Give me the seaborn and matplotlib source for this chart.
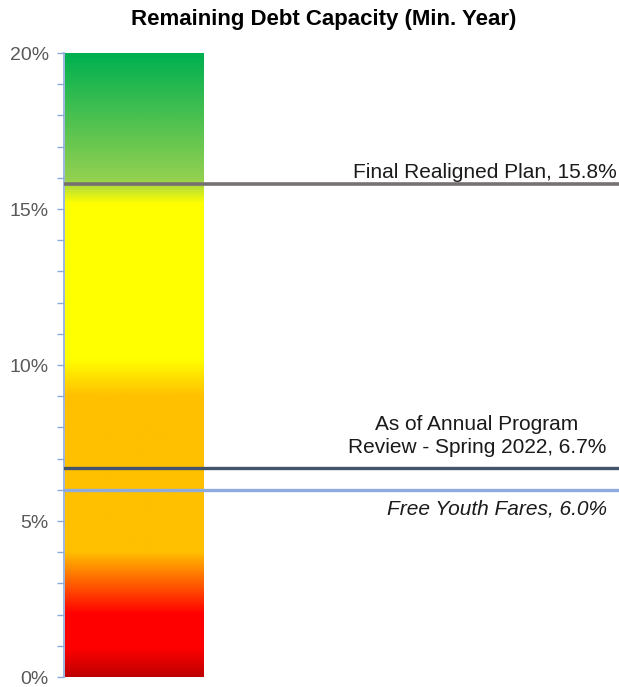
import numpy as np
import pandas as pd
import matplotlib
matplotlib.use("Agg")
import matplotlib.pyplot as plt
import seaborn as sns
from matplotlib.colors import LinearSegmentedColormap
from matplotlib.transforms import blended_transform_factory

# ---- data ----
title = "Remaining Debt Capacity (Min. Year)"
gauge_category = ["Capacity"]
gauge_value = [20.0]
y_ticks = [0, 5, 10, 15, 20]
y_tick_labels = ["0%", "5%", "10%", "15%", "20%"]
marker_names = ["Final Realigned Plan, 15.8%",
                "As of Annual Program\nReview - Spring 2022, 6.7%",
                "Free Youth Fares, 6.0%"]
marker_values = [15.8, 6.7, 6.0]
# gradient stops (value %, colour)
grad_pos = [0.0, 0.9, 2.0, 4.0, 9.0, 10.2, 15.2, 16.0, 20.0]
grad_col = ["#C00000", "#FF0000", "#FF0000", "#FFC000", "#FFC000",
            "#FFFF00", "#FFFF00", "#92D050", "#00B050"]

sns.set_theme(style="white")
plt.rcParams['font.family'] = ['Liberation Sans', 'DejaVu Sans']

fig = plt.figure(figsize=(6.19, 6.87), dpi=100)
ax = fig.add_axes([64/619, 1-677/687, 1-64/619, (677-53)/687])

df = pd.DataFrame({"cat": gauge_category, "val": gauge_value})
sns.barplot(data=df, x="cat", y="val", ax=ax, color="white", width=0.8,
            edgecolor="none", saturation=1)
bar = ax.patches[0]

cmap = LinearSegmentedColormap.from_list(
    "gauge", list(zip([p / gauge_value[0] for p in grad_pos], grad_col)))
grad = np.linspace(0, 1, 512).reshape(-1, 1)
x0 = bar.get_x(); w = bar.get_width()
im = ax.imshow(grad, cmap=cmap, aspect="auto", origin="lower",
               extent=[x0, x0 + w, 0, bar.get_height()], zorder=2)
im.set_clip_path(bar)

ax.set_ylim(0, 20)
px = w / 139.0
ax.set_xlim(x0 - 1 * px, x0 + w + 415 * px)

line_styles = [("#767171", 2.6), ("#44546A", 2.4), ("#8FAADC", 2.4)]
for v, (c, lw) in zip(marker_values, line_styles):
    ax.axhline(v, color=c, lw=lw, zorder=3)

fs = 15
tr = blended_transform_factory(ax.transAxes, ax.transData)
ax.text((617-64)/555, marker_values[0] + 0.06, marker_names[0], transform=tr,
        ha="right", va="bottom", fontsize=fs, color="#1a1a1a")
ax.text((477-64)/555, marker_values[1] + 0.36, marker_names[1], transform=tr,
        ha="center", va="bottom", fontsize=fs, color="#1a1a1a",
        multialignment="center", linespacing=1.25)
ax.text((607-64)/555, marker_values[2] - 0.3, marker_names[2], transform=tr,
        ha="right", va="top", fontsize=fs, color="#1a1a1a", style="italic")

ax.set_yticks(y_ticks)
ax.set_yticklabels(y_tick_labels)
ax.set_yticks(np.arange(0, 21, 1), minor=True)
ax.tick_params(axis="y", which="both", left=True, length=5, width=1,
               color="#8EA9DB", labelsize=14, labelcolor="#595959", pad=6)
ax.set_xticks([])
ax.set_xlabel(""); ax.set_ylabel("")
for s in ["top", "right", "bottom"]:
    ax.spines[s].set_visible(False)
ax.spines["left"].set_color("#8EA9DB")
ax.spines["left"].set_linewidth(1.2)

fig.text(324/619, 1-20/687, title, ha="center", va="center",
         fontsize=16, fontweight="bold", color="black")

fig.savefig("out.png", dpi=100)
